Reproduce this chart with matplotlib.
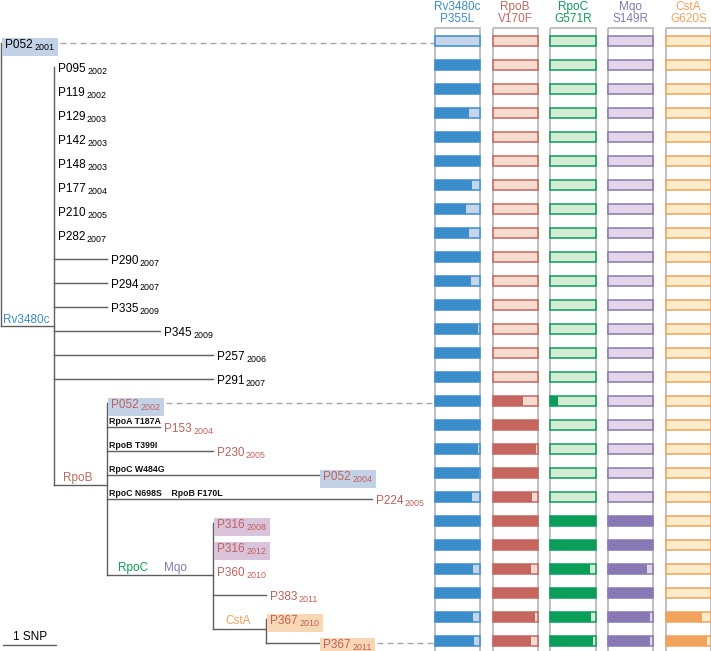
import matplotlib
matplotlib.use("Agg")
import numpy as np
import matplotlib.pyplot as plt
from matplotlib.patches import Rectangle
from matplotlib.transforms import IdentityTransform

plt.rcParams['font.family'] = ['Liberation Sans', 'DejaVu Sans']

# tips of the tree, top to bottom
tips = ["P052", "P095", "P119", "P129", "P142", "P148", "P177", "P210", "P282",
        "P290", "P294", "P335", "P345", "P257", "P291",
        "P052", "P153", "P230", "P052", "P224",
        "P316", "P316", "P360", "P383", "P367", "P367"]
years = [2001, 2002, 2002, 2003, 2003, 2003, 2004, 2005, 2007,
         2007, 2007, 2009, 2009, 2006, 2007,
         2002, 2004, 2005, 2004, 2005,
         2008, 2012, 2010, 2011, 2010, 2011]
# distance from root in SNPs
tip_x = [0, 1, 1, 1, 1, 1, 1, 1, 1,
         2, 2, 2, 3, 4, 4,
         2, 3, 4, 6, 7,
         4, 4, 4, 5, 5, 6]
tip_parent = [0] + [1] * 14 + [2] * 5 + [3] * 4 + [4] * 2

# internal nodes
node_x = [0, 1, 2, 4, 5]
node_y = [0, 11.8, 18.42, 22.17, 24.42]
node_parent = [-1, 0, 1, 2, 3]

# mutations written on branches (row, text)
mut_rows = [16, 17, 18, 19]
mut_text = ["RpoA T187A", "RpoB T399I", "RpoC W484G", "RpoC N698S    RpoB F170L"]

hl_rows = [0, 15, 18, 20, 21, 24, 25]
hl_colors = ["#c3d1e6", "#c3d1e6", "#c3d1e6", "#d9c3db", "#d9c3db", "#f8d7b5", "#f8d7b5"]
dash_rows = [0, 15, 25]

# allele frequencies per sample
genes = ["Rv3480c", "RpoB", "RpoC", "Mqo", "CstA"]
changes = ["P355L", "V170F", "G571R", "S149R", "G620S"]
rv3480c = [0, 1, 1, .76, 1, 1, .82, .69, .75, 1, .81, 1, .96, 1, 1,
           1, 1, .95, .98, .83, 1, 1, .84, 1, .84, .87]
rpob = [0] * 15 + [.68, 1, .96, 1, .87, 1, 1, .85, 1, .93, .86]
rpoc = [0] * 15 + [.17, 0, 0, 0, 0, 1, 1, .87, 1, .91, .94]
mqo = [0] * 20 + [1, 1, .87, 1, .93, .93]
csta = [0] * 24 + [.80, .91]
freqs = [rv3480c, rpob, rpoc, mqo, csta]

dark = ["#3b8dcc", "#c5665f", "#0a9e58", "#8878b3", "#f1a25c"]
light = ["#c7d5ea", "#f6dbcf", "#d4ebd4", "#e2d6e8", "#fdebc9"]
red_txt = "#c0605a"
line_col = "#5e5e5e"

W, H = 711, 651
fig = plt.figure(figsize=(W / 100, H / 100), dpi=100)
ax_t = fig.add_axes([0, 0, 435 / W, 1])
ax_b = fig.add_axes([430 / W, 0, 281 / W, 1])
ax_t.set_xlim(-1 / 53, 434 / 53)
ax_t.set_ylim(25.354, -1.771)
ax_b.set_xlim(-0.476, 4.39)
ax_b.set_ylim(25.417, -1.708)
for a in (ax_t, ax_b):
    a.axis("off")
    a.patch.set_visible(False)

rows = np.arange(len(tips))

# tree
for r in rows:
    x0 = node_x[tip_parent[r]]
    if tip_x[r] > x0:
        ax_t.plot([x0, tip_x[r]], [r, r], color=line_col, lw=1.0)
for i in range(1, len(node_x)):
    ax_t.plot([node_x[node_parent[i]], node_x[i]], [node_y[i]] * 2, color=line_col, lw=1.0)
for i in range(len(node_x)):
    ys = [r for r in rows if tip_parent[r] == i]
    ys += [node_y[j] for j in range(len(node_x)) if node_parent[j] == i]
    ax_t.plot([node_x[i]] * 2, [min(ys), max(ys)], color=line_col, lw=1.0)

# tip labels: name with the year as a subscript
names, subs = {}, {}
for r in rows:
    col = "black" if r < 15 else red_txt
    names[r] = ax_t.annotate(tips[r], (tip_x[r], r), xytext=(2.9, -3.8),
                             textcoords="offset points", ha="left", va="baseline",
                             fontsize=8.5, color=col, zorder=4)
    subs[r] = ax_t.annotate(str(years[r]), xy=(1, 0), xycoords=names[r],
                            xytext=(1.0, 0.3), textcoords="offset points",
                            ha="left", va="baseline", fontsize=6.4, color=col, zorder=4)

for r, t in zip(mut_rows, mut_text):
    ax_t.annotate(t, (node_x[tip_parent[r]], r), xytext=(1.5, 1.5), textcoords="offset points",
                  ha="left", va="baseline", fontsize=6.3, fontweight="bold", color="#111111")

# branch labels
ax_t.annotate("Rv3480c", (0, node_y[1]), xytext=(1.5, 2), textcoords="offset points",
              ha="left", va="baseline", fontsize=8.5, color=dark[0])
ax_t.annotate("RpoB", (1.45, node_y[2]), xytext=(0, 2.6), textcoords="offset points",
              ha="center", va="baseline", fontsize=8.5, color=dark[1])
ax_t.annotate("RpoC", (2.49, node_y[3]), xytext=(0, 2.8), textcoords="offset points",
              ha="center", va="baseline", fontsize=8.5, color=dark[2])
ax_t.annotate("Mqo", (3.29, node_y[3]), xytext=(0, 2.8), textcoords="offset points",
              ha="center", va="baseline", fontsize=8.5, color=dark[3])
ax_t.annotate("CstA", (4.47, node_y[4]), xytext=(0, 3.2), textcoords="offset points",
              ha="center", va="baseline", fontsize=8.5, color=dark[4])

# scale bar
ax_t.plot([0.04, 1.04], [25.1, 25.1], color=line_col, lw=1.0)
ax_t.annotate("1 SNP", (0.54, 25.1), xytext=(0, 3.6), textcoords="offset points",
              ha="center", va="baseline", fontsize=8.5, color="black")

# highlight boxes and dashed connectors (need rendered text extents)
fig.canvas.draw()
inv = ax_t.transData.inverted()
box_right = {}
for r, c in zip(hl_rows, hl_colors):
    e1 = names[r].get_window_extent()
    e2 = subs[r].get_window_extent()
    base = ax_t.transData.transform((tip_x[r], r))[1] - 3.8 * 100 / 72
    x0, x1 = e1.x0 - 3, e2.x1 + 3.5
    ax_t.add_patch(Rectangle((x0, base - 8.3), x1 - x0, 18, transform=IdentityTransform(),
                             fc=c, ec="none", zorder=3, clip_on=False))
    box_right[r] = x1
for r in dash_rows:
    xs = inv.transform((box_right[r] + 2, 0))[0]
    ax_t.plot([xs, ax_t.get_xlim()[1]], [r, r], color="#a5a5a5", lw=1.0,
              dashes=(4.3, 2.9))

# frequency bars
w = 0.78
top = -0.54
bottom = ax_b.get_ylim()[0] + 0.5
cols = np.arange(len(genes))
ax_b.bar(cols, bottom - top, bottom=top, width=w, fill=False,
         edgecolor="#b4b4bc", lw=1.2, zorder=1)
for i, f in enumerate(freqs):
    ax_b.barh(rows, w, left=i - w / 2, height=0.42, color=light[i],
              edgecolor=dark[i], lw=1.1, zorder=2)
    ax_b.barh(rows, np.array(f) * w, left=i - w / 2, height=0.42, color=dark[i],
              lw=0, zorder=3)
    ax_b.annotate(f"{genes[i]}\n{changes[i]}", (i, top), xytext=(0, 2.0),
                  textcoords="offset points", ha="center", va="bottom",
                  fontsize=8.5, linespacing=1.0, color=dark[i], annotation_clip=False)

fig.savefig("out.png", dpi=100)
